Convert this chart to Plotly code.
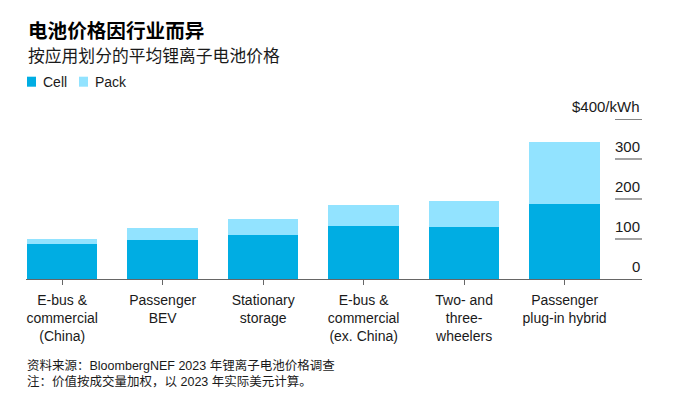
import plotly.graph_objects as go

categories = ["E-bus &<br>commercial<br>(China)", "Passenger<br>BEV", "Stationary<br>storage",
              "E-bus &<br>commercial<br>(ex. China)", "Two- and<br>three-<br>wheelers", "Passenger<br>plug-in hybrid"]
cell = [88, 98, 109, 133, 130, 188]
pack = [12, 30, 41, 53, 65, 155]
y_ticks = [0, 100, 200, 300, 400]
y_tick_labels = ["0", "100", "200", "300", "$400/kWh"]

CELL_COLOR = "#00ADE3"
PACK_COLOR = "#92E3FF"
FONT = "Liberation Sans, Noto Sans CJK SC, sans-serif"
TEXT = "#1a1a1a"

fig = go.Figure()
fig.add_bar(x=categories, y=cell, name="Cell", marker_color=CELL_COLOR, marker_line_width=0)
fig.add_bar(x=categories, y=pack, name="Pack", marker_color=PACK_COLOR, marker_line_width=0)

OFF = 8  # page body margin
SW, SH = 677, 399
W, H = SW - OFF, SH - OFF
# plot area in screen pixels
PL, PR, PT, PB = 26, 642, 119.3, 279.3
L, R, T, B = PL - OFF, SW - PR, PT - OFF, SH - PB
plot_h = PB - PT
plot_w = PR - PL

def py(pix):
    return (PB - pix) / plot_h

def px(pix):
    return (pix - PL) / plot_w

annotations = [
    dict(text="<b>电池价格因行业而异</b>", x=px(26), y=py(31), xref="paper", yref="paper",
         xanchor="left", yanchor="middle", showarrow=False, font=dict(size=19.6, color="#000", family=FONT)),
    dict(text="按应用划分的平均锂离子电池价格", x=px(26), y=py(57), xref="paper", yref="paper",
         xanchor="left", yanchor="middle", showarrow=False, font=dict(size=16.8, color=TEXT, family=FONT)),
    dict(text="Cell", x=px(41), y=py(82), xref="paper", yref="paper",
         xanchor="left", yanchor="middle", showarrow=False, font=dict(size=14, color=TEXT, family=FONT)),
    dict(text="Pack", x=px(93), y=py(82), xref="paper", yref="paper",
         xanchor="left", yanchor="middle", showarrow=False, font=dict(size=14, color=TEXT, family=FONT)),
    dict(text="资料来源：BloombergNEF 2023 年锂离子电池价格调查", x=px(25), y=py(366), xref="paper", yref="paper",
         xanchor="left", yanchor="middle", showarrow=False, font=dict(size=12.5, color=TEXT, family=FONT)),
    dict(text="注：价值按成交量加权，以 2023 年实际美元计算。", x=px(25), y=py(381.5), xref="paper", yref="paper",
         xanchor="left", yanchor="middle", showarrow=False, font=dict(size=12.5, color=TEXT, family=FONT)),
]
for v, lab in zip(y_ticks, y_tick_labels):
    annotations.append(dict(text=lab, x=1, y=v, xref="paper", yref="y", xanchor="right", yanchor="bottom",
                            yshift=2, showarrow=False, font=dict(size=15, color=TEXT, family=FONT)))

shapes = [
    dict(type="rect", xref="paper", yref="paper", x0=px(27), x1=px(36), y0=py(87), y1=py(77),
         fillcolor=CELL_COLOR, line_width=0),
    dict(type="rect", xref="paper", yref="paper", x0=px(79), x1=px(88), y0=py(87), y1=py(77),
         fillcolor=PACK_COLOR, line_width=0),
]
for v in y_ticks[1:]:
    shapes.append(dict(type="line", xref="paper", yref="y", x0=px(615), x1=1, y0=v, y1=v,
                       line=dict(color="#333" if v == 400 else "#666", width=1.2)))

fig.update_layout(
    barmode="stack", bargap=0.30,
    width=W, height=H,
    margin=dict(l=L, r=R, t=T, b=B, pad=0),
    paper_bgcolor="white", plot_bgcolor="white",
    showlegend=False,
    font=dict(family=FONT, color=TEXT, size=14),
    annotations=annotations, shapes=shapes,
    xaxis=dict(range=[-0.36, 5.77], showline=True, linecolor="#666", linewidth=1.2,
               ticks="outside", ticklen=5, tickcolor="#666", tickwidth=1.2, ticklabelstandoff=3,
               tickfont=dict(size=14, color=TEXT, family=FONT), showgrid=False, fixedrange=True),
    yaxis=dict(range=[0, 400], showgrid=False, showticklabels=False, zeroline=False, fixedrange=True),
)

fig.write_html("out.html")
